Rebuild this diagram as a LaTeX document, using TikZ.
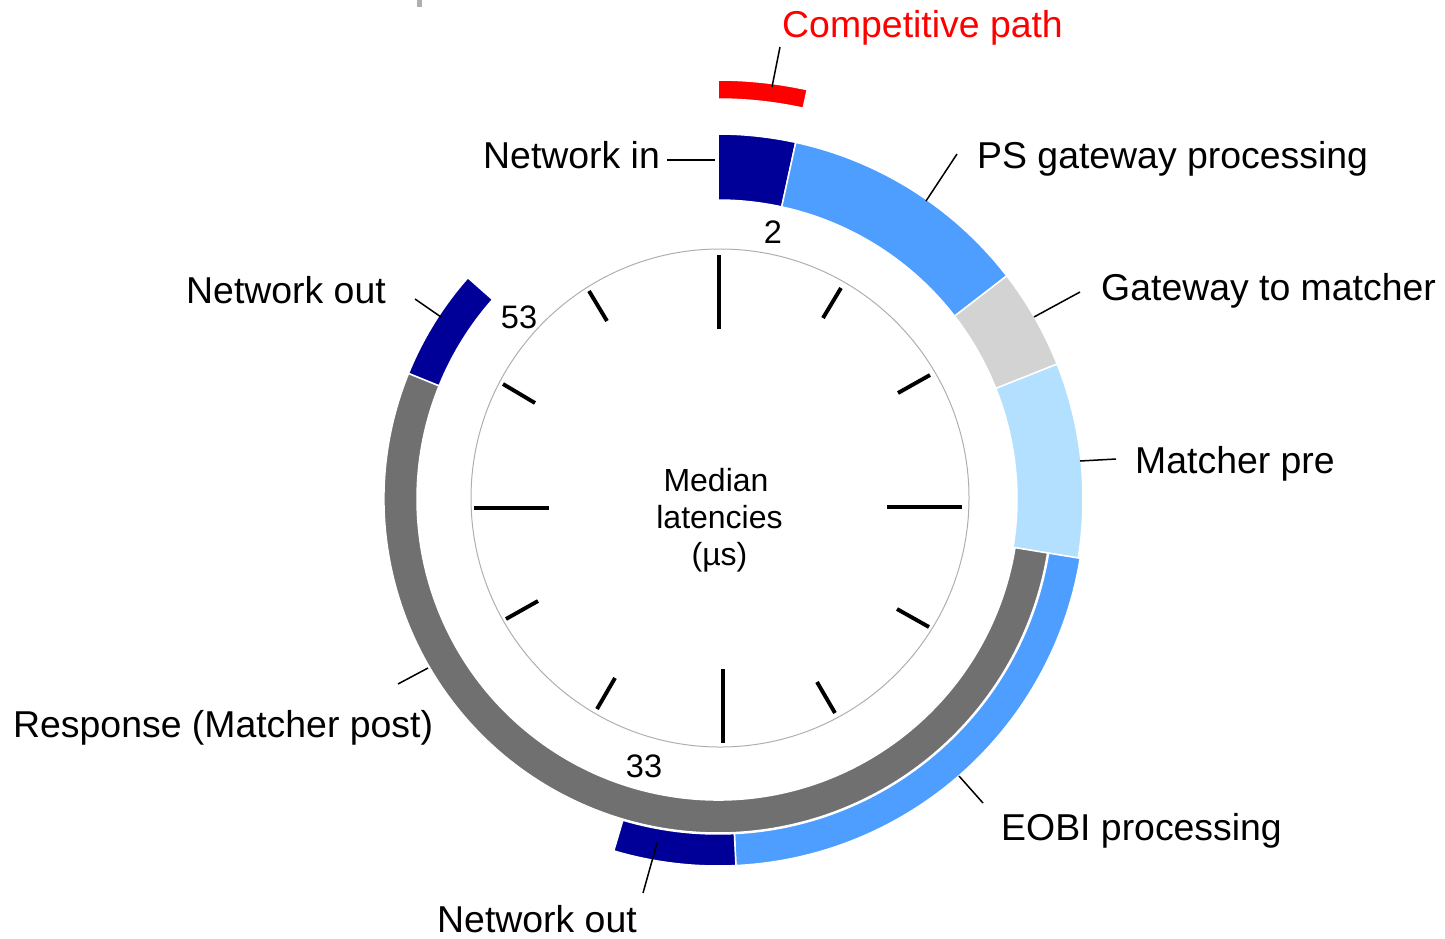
\documentclass[tikz,border=0pt]{standalone}
\usepackage{fontspec}
\setmainfont{Liberation Sans}
\usetikzlibrary{calc}
\definecolor{netblue}{RGB}{0,0,153}
\definecolor{psblue}{RGB}{77,158,255}
\definecolor{gwgray}{RGB}{211,211,211}
\definecolor{mpblue}{RGB}{179,224,255}
\definecolor{respgray}{RGB}{112,112,112}
\definecolor{ringline}{RGB}{175,175,175}
\definecolor{cpred}{RGB}{255,0,0}
\newcommand{\ringseg}[5]{%
  \fill[#1, draw=white, line width=1.5pt] (#2:#4) arc[start angle=#2, end angle=#3, radius=#4] -- (#3:#5) arc[start angle=#3, end angle=#2, radius=#5] -- cycle;}
\tikzset{
  lbl/.style={font=\fontsize{37.4}{44}\selectfont, inner sep=0pt, anchor=base west},
  numlbl/.style={font=\fontsize{32.5}{38}\selectfont, inner sep=0pt, anchor=base},
  midlbl/.style={font=\fontsize{32}{38}\selectfont, inner sep=0pt, anchor=base},
  leader/.style={draw=black, line width=1.5pt},
  tickline/.style={draw=black, line width=4.2pt},
  minortick/.style={draw=black, line width=3.9pt}
}
\begin{document}
\begin{tikzpicture}[x=1pt, y=-1pt]
\useasboundingbox (0,0) rectangle (1445,938);
% small gray mark at top
\fill[ringline] (417,0) rectangle (422,7);
% clock face
\draw[ringline, line width=1pt] (720,498) circle[radius=249];
\draw[tickline] (719,255) -- (719,329);
\draw[tickline] (887,507) -- (962,507);
\draw[tickline] (723,669) -- (723,743);
\draw[tickline] (474,508) -- (549,508);
\draw[minortick] (841,288) -- (823,318);
\draw[minortick] (930,375) -- (898,393);
\draw[minortick] (897,609) -- (929,627);
\draw[minortick] (817,682) -- (835,713);
\draw[minortick] (597,709) -- (615,678);
\draw[minortick] (506,619) -- (538,601);
\draw[minortick] (503,384) -- (535,403);
\draw[minortick] (589,291) -- (607,321);
% ring segments
\begin{scope}[shift={(718,499)}, yscale=-1]
\ringseg{cpred}{90}{77.7}{400}{419}
\ringseg{netblue}{90}{77.7}{299}{365}
\ringseg{psblue}{77.7}{37.7}{299}{365}
\ringseg{gwgray}{37.7}{21.7}{299}{365}
\ringseg{mpblue}{21.7}{-9.3}{299}{365}
\ringseg{respgray}{-9.3}{-202.1}{301}{334}
\ringseg{psblue}{-9.3}{-87.2}{335}{367}
\ringseg{netblue}{-87.2}{-106.5}{335}{367}
\ringseg{netblue}{157.9}{138.5}{301}{334}
\end{scope}
% numbers
\node[numlbl] (n2) at (773,243) {2};
\node[numlbl] (n53) at (519,328) {53};
\node[numlbl] (n33) at (644,777) {33};
% centre text
\node[midlbl] (med1) at (716,491) {Median};
\node[midlbl] (med2) at (719.5,528) {latencies};
\node[midlbl] (med3) at (719.5,565) {(µs)};
% labels
\node[lbl, text=cpred] (cp) at (782,37) {Competitive path};
\node[lbl] (netin) at (483,168) {Network in};
\node[lbl] (ps) at (977,168) {PS gateway processing};
\node[lbl] (gw) at (1101,300) {Gateway to matcher};
\node[lbl] (mp) at (1135,473) {Matcher pre};
\node[lbl] (eobi) at (1001,840) {EOBI processing};
\node[lbl, text depth=0pt] (netoutb) at (437,932) {Network out};
\node[lbl] (resp) at (13,737) {Response (Matcher post)};
\node[lbl] (netoutt) at (186,303) {Network out};
% leader ends
\coordinate (cpA) at (780,47);   \coordinate (cpB) at (772,87);
\coordinate (niA) at (667,160);  \coordinate (niB) at (715,160);
\coordinate (psA) at (957,154);  \coordinate (psB) at (926,201);
\coordinate (gwA) at (1080,292); \coordinate (gwB) at (1034,317);
\coordinate (mpA) at (1116,459); \coordinate (mpB) at (1080,461);
\coordinate (ebA) at (983,803);  \coordinate (ebB) at (959,776);
\coordinate (nbA) at (643,893);  \coordinate (nbB) at (657,843);
\coordinate (rpA) at (398,684);  \coordinate (rpB) at (428,668);
\coordinate (ntA) at (415,299);  \coordinate (ntB) at (441,317);
\draw[leader] (cpA) -- (cpB);
\draw[leader] (niA) -- (niB);
\draw[leader] (psA) -- (psB);
\draw[leader] (gwA) -- (gwB);
\draw[leader] (mpA) -- (mpB);
\draw[leader] (ebA) -- (ebB);
\draw[leader] (nbA) -- (nbB);
\draw[leader] (rpA) -- (rpB);
\draw[leader] (ntA) -- (ntB);
\end{tikzpicture}
\end{document}
